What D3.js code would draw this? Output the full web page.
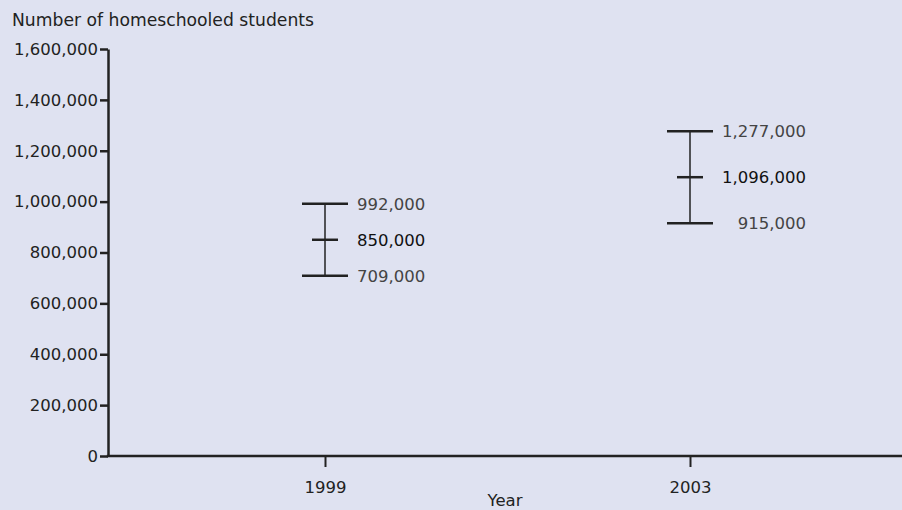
<!DOCTYPE html>
<html lang="en">
<head>
  <meta charset="UTF-8">
  <title>Homeschooled students</title>
  <style>
    body { margin: 0; background: #dfe2f1; }
    svg { display: block; background: #dfe2f1; font-family: "DejaVu Sans", sans-serif; }
  </style>
</head>
<body>
  <svg width="902" height="510"></svg>

  <script src="https://d3js.org/d3.v7.min.js"></script>
  <script>
    const years = ["1999", "2003"];
    const lower = [709000, 915000];
    const estimate = [850000, 1096000];
    const upper = [992000, 1277000];
    const yTicks = [0, 200000, 400000, 600000, 800000, 1000000, 1200000, 1400000, 1600000];

    const width = 902, height = 510;
    const fontSize = 16.5;
    const svg = d3.select("svg");
    const padLeft = 108, padTop = 49, axisY = 456;

    const y = d3.scaleLinear().domain([0, 1600000]).range([axisY, padTop]);
    const x = d3.scalePoint().domain(years).range([325, 690]);
    const fmt = d3.format(",");

    // y axis
    const yAxis = svg.append("g")
      .attr("transform", `translate(${padLeft},0)`)
      .call(d3.axisLeft(y).tickValues(yTicks).tickFormat(fmt).tickSize(8).tickSizeOuter(0).tickPadding(2));
    yAxis.attr("font-size", fontSize).attr("font-family", null);
    yAxis.select(".domain").attr("stroke", "#222").attr("stroke-width", 2.5);
    yAxis.selectAll(".tick line").attr("stroke", "#222").attr("stroke-width", 2.5);
    yAxis.selectAll(".tick text").attr("fill", "#222");

    // x axis
    const xAxis = svg.append("g")
      .attr("transform", `translate(0,${axisY})`)
      .call(d3.axisBottom(x).tickSize(11).tickSizeOuter(0).tickPadding(14));
    xAxis.attr("font-size", fontSize).attr("font-family", null);
    xAxis.select(".domain").attr("d", `M${padLeft - 1.2},0H${width}`)
      .attr("stroke", "#222").attr("stroke-width", 2.5);
    xAxis.selectAll(".tick line").attr("stroke", "#222").attr("stroke-width", 2);
    xAxis.selectAll(".tick text").attr("fill", "#222");

    svg.append("text")
      .attr("x", 12).attr("y", 26)
      .attr("fill", "#222").attr("font-size", 17.2)
      .text("Number of homeschooled students");

    svg.append("text")
      .attr("x", 505).attr("y", 506)
      .attr("text-anchor", "middle")
      .attr("fill", "#222").attr("font-size", fontSize)
      .text("Year");

    // error bars
    const bars = years.map((yr, i) => ({ yr, lo: lower[i], est: estimate[i], hi: upper[i] }));
    const g = svg.append("g").selectAll("g").data(bars).join("g");

    g.append("line")
      .attr("x1", d => x(d.yr)).attr("x2", d => x(d.yr))
      .attr("y1", d => y(d.hi)).attr("y2", d => y(d.lo))
      .attr("stroke", "#222").attr("stroke-width", 1.5);

    [["hi", 23], ["lo", 23], ["est", 13]].forEach(([k, half]) => {
      g.append("line")
        .attr("x1", d => x(d.yr) - half).attr("x2", d => x(d.yr) + half)
        .attr("y1", d => y(d[k])).attr("y2", d => y(d[k]))
        .attr("stroke", "#222").attr("stroke-width", 2.5);
    });

    g.each(function(d) {
      const el = d3.select(this);
      const texts = ["hi", "est", "lo"].map(k =>
        el.append("text")
          .attr("y", y(d[k]))
          .attr("dy", "0.36em")
          .attr("text-anchor", "end")
          .attr("font-size", fontSize)
          .attr("fill", k === "est" ? "#111" : "#444")
          .text(fmt(d[k])));
      const w = d3.max(texts, t => t.node().getComputedTextLength());
      texts.forEach(t => t.attr("x", x(d.yr) + 32 + w));
    });
  </script>
</body>
</html>
